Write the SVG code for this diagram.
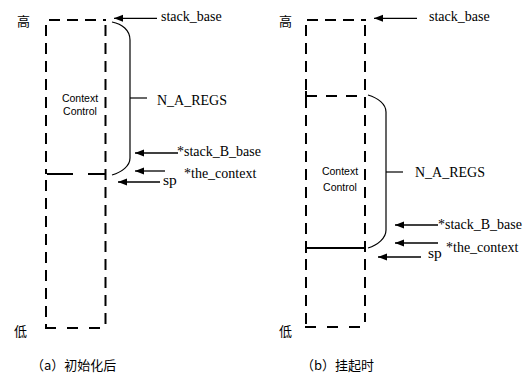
<svg xmlns="http://www.w3.org/2000/svg" width="532" height="374" viewBox="0 0 532 374">
<style>
.dash{stroke:#000;stroke-width:2;fill:none;stroke-dasharray:11 7}
.solid{stroke:#000;stroke-width:2;fill:none}
.brace{stroke:#000;stroke-width:1.2;fill:none}
.arr{stroke:#000;stroke-width:1.3;fill:none;marker-end:url(#ah)}
.lbl{font-family:'Liberation Serif',serif;font-size:14px;fill:#000}
.sp{font-family:'Liberation Serif',serif;font-size:15.5px;fill:#000}
.cc{font-family:'Liberation Sans',sans-serif;font-size:10.5px;fill:#000;text-anchor:middle}
.cjk{font-family:'Noto Sans CJK SC',sans-serif;font-size:13px;fill:#000}
.cap{font-family:'Noto Sans CJK SC',sans-serif;font-size:13px;fill:#000}
</style>
<defs>
<marker id="ah" markerUnits="userSpaceOnUse" markerWidth="10" markerHeight="8" refX="9" refY="4" orient="auto">
<path d="M0,0.5 L9,4 L0,7.5 z" fill="#000"/>
</marker>
</defs>
<rect width="532" height="374" fill="#fff"/>

<g id="stack-a">
<line class="dash" x1="49" y1="20" x2="106" y2="20"/>
<line class="dash" x1="46" y1="25" x2="46" y2="174"/>
<line class="dash" x1="46" y1="180" x2="46" y2="328"/>
<line class="dash" x1="105.5" y1="25" x2="105.5" y2="324"/>
<line class="dash" x1="45" y1="328" x2="104" y2="328" style="stroke-dasharray:11 11"/>
<line class="solid" x1="47" y1="174" x2="73" y2="174"/>
<line class="solid" x1="88" y1="174" x2="105" y2="174"/>
<text class="cc" x="80" y="101.5">Context</text>
<text class="cc" x="80" y="115">Control</text>
<text class="cjk" x="17" y="26">高</text>
<text class="cjk" x="14" y="336">低</text>
<text class="cap" x="31" y="370">（a）初始化后</text>
</g>

<g id="brace-a">
<path class="brace" d="M112,22 C122,24 130,30 130,40 L130,158 C130,166 122,172 112,175"/>
<line class="brace" x1="130" y1="98" x2="147" y2="98"/>
<text class="lbl" x="157" y="104.5">N_A_REGS</text>
</g>

<g id="stack-b">
<line class="dash" x1="307" y1="20" x2="366" y2="20"/>
<line class="dash" x1="306" y1="25" x2="306" y2="327"/>
<line class="dash" x1="365" y1="25" x2="365" y2="322"/>
<line class="dash" x1="305" y1="327" x2="364" y2="327" style="stroke-dasharray:11 11"/>
<line class="solid" x1="306" y1="91" x2="306" y2="101"/>
<line class="dash" x1="306" y1="96" x2="365" y2="96" style="stroke-dasharray:11 9"/>
<line class="solid" x1="306" y1="243" x2="306" y2="253"/>
<line class="solid" x1="306" y1="248" x2="365" y2="248"/>
<text class="cc" x="340" y="175">Context</text>
<text class="cc" x="340" y="190.5">Control</text>
<text class="cjk" x="279" y="26">高</text>
<text class="cjk" x="279" y="336">低</text>
<text class="cap" x="301" y="370">（b）挂起时</text>
</g>

<g id="brace-b">
<path class="brace" d="M368,95 C378,98 386,104 386,112 L386,230 C386,238 378,245 368,248"/>
<line class="brace" x1="386" y1="172" x2="403" y2="172"/>
<text class="lbl" x="415" y="177">N_A_REGS</text>
</g>

<g id="connectors">
<line class="arr" x1="157" y1="18.3" x2="114" y2="18.3"/>
<line class="arr" x1="178" y1="153" x2="135" y2="153"/>
<line class="arr" x1="165" y1="171" x2="135" y2="171"/>
<line class="arr" x1="160" y1="182" x2="118" y2="182"/>
<line class="arr" x1="417" y1="18.3" x2="374" y2="18.3"/>
<line class="arr" x1="438" y1="225" x2="395" y2="225"/>
<line class="arr" x1="438" y1="243" x2="395" y2="243"/>
<line class="arr" x1="421" y1="257" x2="378" y2="257"/>
</g>

<g id="labels">
<text class="lbl" x="161" y="21">stack_base</text>
<text class="lbl" x="177" y="155.5">*stack_B_base</text>
<text class="lbl" x="184" y="178">*the_context</text>
<text class="sp" x="163" y="185">sp</text>
<text class="lbl" x="429" y="21">stack_base</text>
<text class="lbl" x="438" y="229">*stack_B_base</text>
<text class="lbl" x="446" y="251.5">*the_context</text>
<text class="sp" x="428" y="258">sp</text>
</g>
</svg>
